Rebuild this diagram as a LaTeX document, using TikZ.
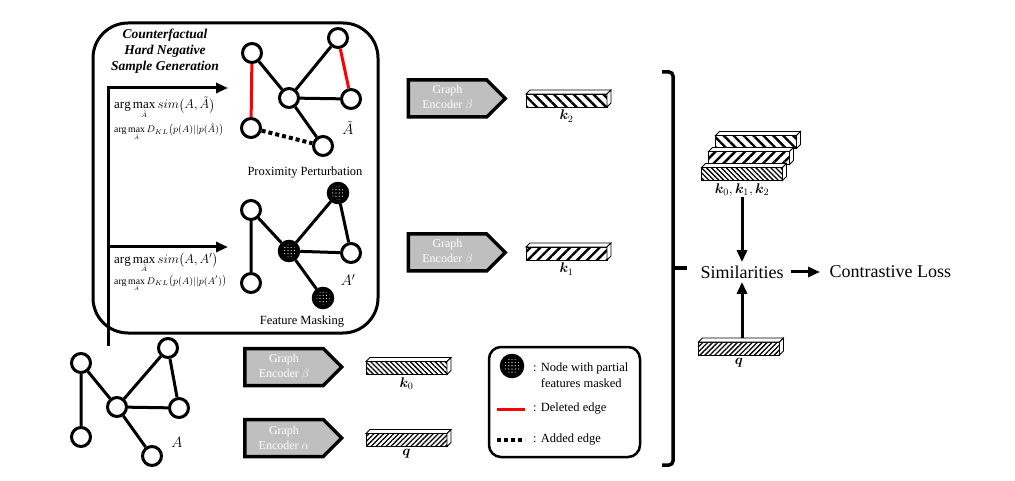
\documentclass[tikz,border=0pt]{standalone}
\usepackage{fix-cm}
\usepackage{amsmath}
\usepackage{bm}
\usepackage{fontspec}
\setmainfont{Liberation Serif}
\usetikzlibrary{positioning,calc,shapes.symbols,patterns.meta,arrows.meta}
\newcommand{\argmx}{\arg\max\limits_{\scriptscriptstyle\tilde{A}}}
\newcommand{\barfaces}[1]{%
  \draw[barface] (#1.north west) -- ++(4,-4) -- ++(81,0) -- (#1.north east) -- cycle;
  \draw[barface] (#1.north east) -- ++(4,-4) -- ++(0,13) -- (#1.south east) -- cycle;}
\tikzset{
  >={Triangle[length=12pt,width=10pt]},
  vtx/.style={circle,draw=black,line width=3pt,minimum size=19pt,inner sep=0pt},
  gnode/.style={vtx,fill=white},
  masknode/.style={vtx,line width=4.5pt,minimum size=18pt,preaction={fill=black},
    pattern={Dots[radius=0.6pt,distance=3.2pt]},pattern color=white},
  gedge/.style={line width=3pt},
  deledge/.style={gedge,draw=red},
  addedge/.style={line width=4pt,dash pattern=on 4pt off 3pt},
  flow/.style={line width=3pt,->},
  genbox/.style={line width=3pt,rounded corners=35pt},
  legbox/.style={line width=2.5pt,rounded corners=12pt},
  brack/.style={line width=3.5pt,rounded corners=4pt},
  gentitle/.style={font=\fontsize{13.5}{16.3}\selectfont\bfseries\itshape,align=center},
  caption/.style={font=\fontsize{12.5}{15}\selectfont},
  objtxt/.style={font=\fontsize{13}{15}\selectfont,inner sep=0pt},
  kltxt/.style={font=\fontsize{9.7}{11}\selectfont,inner sep=0pt},
  glab/.style={font=\fontsize{15}{17}\selectfont},
  encoder/.style={signal,signal to=east,draw=black,line width=3.5pt,fill=black!25,
    text=white,align=center,font=\fontsize{12}{15}\selectfont,
    minimum width=97pt,minimum height=37pt,inner sep=1pt},
  bar/.style={draw,line width=0.8pt,minimum width=81pt,minimum height=13pt,inner sep=0pt,outer sep=0pt},
  barface/.style={draw,line width=0.8pt,fill=white},
  widenw/.style={bar,pattern={Lines[angle=-45,distance=7pt,line width=2.4pt]}},
  widene/.style={bar,pattern={Lines[angle=45,distance=7pt,line width=2.4pt]}},
  densenw/.style={bar,pattern={Lines[angle=-45,distance=3.5pt,line width=1.3pt]}},
  densene/.style={bar,pattern={Lines[angle=45,distance=3.5pt,line width=1.3pt]}},
  veclab/.style={font=\fontsize{14}{16}\selectfont,inner sep=1pt},
  bigtxt/.style={font=\fontsize{18}{20}\selectfont},
  legtxt/.style={font=\fontsize{12.5}{16}\selectfont,align=left,inner sep=0pt}
}
\begin{document}
\begin{tikzpicture}[x=1pt,y=-1pt]
\useasboundingbox (0,0) rectangle (1015,481);

% sample generation box
\draw[genbox] (93,23) rectangle (378,333);
\node[gentitle] (gen) at (165,51) {Counterfactual\\Hard Negative\\Sample Generation};

% proximity perturbation
\node[gnode] (t1) at (252,53) {};
\node[gnode] (t2) at (338,38) {};
\node[gnode] (t3) at (289,98) {};
\node[gnode] (t4) at (351,99) {};
\node[gnode] (t5) at (251,128) {};
\node[gnode] (t6) at (323,146) {};
\draw[deledge] (t1) -- (t5);
\draw[deledge] (t2) -- (t4);
\draw[gedge] (t1) -- (t3) (t3) -- (t2) (t3) -- (t4) (t3) -- (t6);
\draw[addedge] (t5) -- (t6);
\node[glab] (tlab) at (348,128) {$\tilde{A}$};
\node[caption] (pplab) at (305,173) {Proximity Perturbation};

% feature masking
\node[gnode] (m1) at (251,210) {};
\node[masknode] (m2) at (338,193) {};
\node[masknode] (m3) at (289,251) {};
\node[gnode] (m4) at (351,253) {};
\node[gnode] (m5) at (251,283) {};
\node[masknode] (m6) at (323,298) {};
\draw[gedge] (m1) -- (m5) (m1) -- (m3) (m3) -- (m2) (m2) -- (m4) (m3) -- (m4) (m3) -- (m6);
\node[glab] (mlab) at (348,280) {$A'$};
\node[caption] (fmlab) at (302,322) {Feature Masking};

% original graph
\node[gnode] (a1) at (81,363) {};
\node[gnode] (a2) at (168,348) {};
\node[gnode] (a3) at (117,407) {};
\node[gnode] (a4) at (179,408) {};
\node[gnode] (a5) at (81,437) {};
\node[gnode] (a6) at (152,456) {};
\draw[gedge] (a1) -- (a5) (a1) -- (a3) (a3) -- (a2) (a2) -- (a4) (a3) -- (a4) (a3) -- (a6);
\node[glab] (alab) at (177,442) {$A$};

% generation arrows
\coordinate (src) at (108,346);
\coordinate (pptip) at (228,88);
\coordinate (fmtip) at (228,247);
\draw[flow] (src) |- (pptip);
\draw[flow] (src) |- (fmtip);
\node[objtxt,anchor=base west] (ppobj) at (114,109) {$\argmx sim\bigl(A,\tilde{A}\bigr)$};
\node[kltxt,anchor=base west] (ppkl) at (114,133) {$\argmx D_{KL}\bigl(p(A)||p(\tilde{A})\bigr)$};
\node[objtxt,anchor=base west] (fmobj) at (114,263) {$\argmx sim\bigl(A,A'\bigr)$};
\node[kltxt,anchor=base west] (fmkl) at (114,284) {$\argmx D_{KL}\bigl(p(A)||p(A')\bigr)$};

% encoders and embeddings
\node[encoder] (enc2) at (447.5,98.5) {Graph\\Encoder $\beta$};
\node[widenw] (k2) at (566.5,100.5) {};
\barfaces{k2}
\node[veclab,below=2pt of k2] (k2lab) {$\bm{k}_2$};

\node[encoder] (enc1) at (447.5,252.5) {Graph\\Encoder $\beta$};
\node[widene] (k1) at (566.5,253.5) {};
\barfaces{k1}
\node[veclab,below=2pt of k1] (k1lab) {$\bm{k}_1$};

\node[encoder] (enc0) at (284,367) {Graph\\Encoder $\beta$};
\node[densenw] (k0) at (406.5,368) {};
\barfaces{k0}
\node[veclab,below=2pt of k0] (k0lab) {$\bm{k}_0$};

\node[encoder] (encq) at (284,438) {Graph\\Encoder $\alpha$};
\node[densene] (q) at (406.5,440) {};
\barfaces{q}
\node[veclab,below=2pt of q] (qlab) {$\bm{q}$};

% legend
\draw[legbox] (489,347) rectangle (640,457);
\node[masknode,minimum size=20pt] (legmask) at (512,366) {};
\node[legtxt,anchor=west] (legmasktxt) at (533,375) {: Node with partial\\\phantom{: }features masked};
\node[legtxt,anchor=west] (legdel) at (533,409) {: Deleted edge};
\node[legtxt,anchor=west] (legadd) at (533,440) {: Added edge};
\draw[deledge] ([xshift=-36pt]legdel.west) -- ([xshift=-8pt]legdel.west);
\draw[addedge] ([xshift=-36pt]legadd.west) -- ([xshift=-8pt]legadd.west);

% bracket
\draw[brack] (662,72) -- (673,72) -- (673,465) -- (662,465);
\draw[brack] (673,268) -- (687,268);

% contrast
\node[widenw] (sk2) at (756,142) {};
\barfaces{sk2}
\node[widene] (sk1) at (749,158) {};
\barfaces{sk1}
\node[densenw] (sk0) at (742,174) {};
\barfaces{sk0}
\node[veclab,below=2pt of sk0] (sklab) {$\bm{k}_0,\bm{k}_1,\bm{k}_2$};

\node[bigtxt] (sim) at (742,272) {Similarities};
\node[bigtxt,right=39pt of sim] (loss) {Contrastive Loss};
\node[densene] (qr) at (739,348.5) {};
\barfaces{qr}
\node[veclab,below=2pt of qr] (qrlab) {$\bm{q}$};

\draw[flow] (sklab.south) -- (sklab.south |- sim.north);
\draw[flow] ($(sim.south |- qr.north)+(0,-4)$) -- (sim.south);
\draw[flow,shorten <=4pt,shorten >=6pt] (sim) -- (loss);
\end{tikzpicture}
\end{document}
